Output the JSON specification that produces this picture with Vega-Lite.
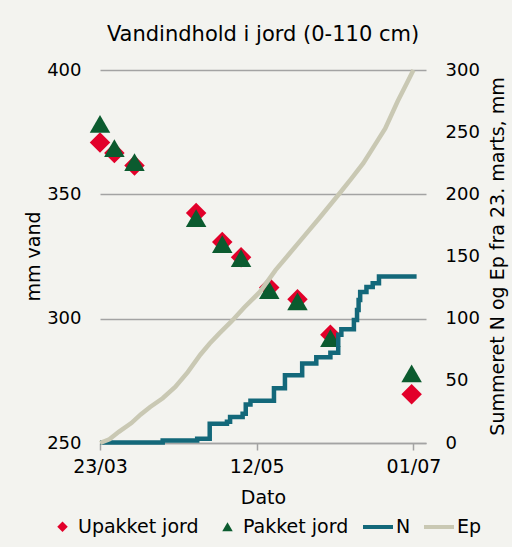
{
  "$schema": "https://vega.github.io/schema/vega-lite/v6.json",
  "width": 326,
  "height": 373,
  "autosize": "none",
  "padding": {"left": 100, "top": 70, "right": 86, "bottom": 104},
  "background": "#f3f3ef",
  "config": {
    "font": "DejaVu Sans",
    "view": {"stroke": null}
  },
  "title": {
    "text": "Vandindhold i jord (0-110 cm)",
    "fontSize": 21,
    "fontWeight": "normal",
    "color": "#000000",
    "frame": "group",
    "anchor": "middle",
    "offset": 16
  },
  "datasets": {
    "pts": [
      {"date": "2011/03/23 00:00", "serie": "Upakket jord", "vand": 370.8},
      {"date": "2011/03/27 14:00", "serie": "Upakket jord", "vand": 366.6},
      {"date": "2011/04/03 00:00", "serie": "Upakket jord", "vand": 361.6},
      {"date": "2011/04/22 16:00", "serie": "Upakket jord", "vand": 342.5},
      {"date": "2011/05/01 00:00", "serie": "Upakket jord", "vand": 330.8},
      {"date": "2011/05/07 00:00", "serie": "Upakket jord", "vand": 324.7},
      {"date": "2011/05/16 00:00", "serie": "Upakket jord", "vand": 312.5},
      {"date": "2011/05/25 00:00", "serie": "Upakket jord", "vand": 307.8},
      {"date": "2011/06/04 12:00", "serie": "Upakket jord", "vand": 293.5},
      {"date": "2011/06/30 10:00", "serie": "Upakket jord", "vand": 269.6},
      {"date": "2011/03/23 00:00", "serie": "Pakket jord", "vand": 378.3},
      {"date": "2011/03/27 14:00", "serie": "Pakket jord", "vand": 368.6},
      {"date": "2011/04/03 00:00", "serie": "Pakket jord", "vand": 363.0},
      {"date": "2011/04/22 16:00", "serie": "Pakket jord", "vand": 340.4},
      {"date": "2011/05/01 00:00", "serie": "Pakket jord", "vand": 330.0},
      {"date": "2011/05/07 00:00", "serie": "Pakket jord", "vand": 324.3},
      {"date": "2011/05/16 00:00", "serie": "Pakket jord", "vand": 311.5},
      {"date": "2011/05/25 00:00", "serie": "Pakket jord", "vand": 307.0},
      {"date": "2011/06/04 12:00", "serie": "Pakket jord", "vand": 292.2},
      {"date": "2011/06/30 10:00", "serie": "Pakket jord", "vand": 278.0}
    ],
    "n": [
      {"date": "2011/03/23 00:00", "sum": 0.5},
      {"date": "2011/04/12 00:00", "sum": 2},
      {"date": "2011/04/23 00:00", "sum": 3.5},
      {"date": "2011/04/27 00:00", "sum": 15.5},
      {"date": "2011/05/02 12:00", "sum": 17},
      {"date": "2011/05/03 12:00", "sum": 21},
      {"date": "2011/05/07 12:00", "sum": 23.5},
      {"date": "2011/05/08 12:00", "sum": 31},
      {"date": "2011/05/10 00:00", "sum": 34},
      {"date": "2011/05/17 12:00", "sum": 44},
      {"date": "2011/05/21 00:00", "sum": 54.5},
      {"date": "2011/05/26 12:00", "sum": 64},
      {"date": "2011/05/31 00:00", "sum": 69},
      {"date": "2011/06/04 12:00", "sum": 72.5},
      {"date": "2011/06/07 00:00", "sum": 87},
      {"date": "2011/06/08 00:00", "sum": 91.5},
      {"date": "2011/06/12 00:00", "sum": 99},
      {"date": "2011/06/13 00:00", "sum": 107},
      {"date": "2011/06/13 12:00", "sum": 115},
      {"date": "2011/06/14 00:00", "sum": 121.5},
      {"date": "2011/06/16 00:00", "sum": 125.5},
      {"date": "2011/06/18 00:00", "sum": 128.5},
      {"date": "2011/06/20 00:00", "sum": 134},
      {"date": "2011/07/02 00:00", "sum": 134}
    ],
    "ep": [
      {"date": "2011/03/23 00:00", "sum": 0},
      {"date": "2011/03/26 00:00", "sum": 3},
      {"date": "2011/03/29 00:00", "sum": 9},
      {"date": "2011/04/02 00:00", "sum": 16},
      {"date": "2011/04/05 00:00", "sum": 23},
      {"date": "2011/04/08 00:00", "sum": 29},
      {"date": "2011/04/12 00:00", "sum": 36},
      {"date": "2011/04/16 00:00", "sum": 45},
      {"date": "2011/04/20 00:00", "sum": 57},
      {"date": "2011/04/24 00:00", "sum": 71},
      {"date": "2011/04/27 00:00", "sum": 80},
      {"date": "2011/04/30 00:00", "sum": 88},
      {"date": "2011/05/04 00:00", "sum": 98},
      {"date": "2011/05/08 00:00", "sum": 109},
      {"date": "2011/05/13 00:00", "sum": 121.5},
      {"date": "2011/05/18 00:00", "sum": 139},
      {"date": "2011/05/22 00:00", "sum": 151},
      {"date": "2011/05/27 00:00", "sum": 166},
      {"date": "2011/06/01 00:00", "sum": 181},
      {"date": "2011/06/07 00:00", "sum": 199.5},
      {"date": "2011/06/11 00:00", "sum": 212},
      {"date": "2011/06/15 00:00", "sum": 225},
      {"date": "2011/06/19 00:00", "sum": 241},
      {"date": "2011/06/22 00:00", "sum": 253},
      {"date": "2011/06/26 00:00", "sum": 275},
      {"date": "2011/06/29 00:00", "sum": 290},
      {"date": "2011/07/01 00:00", "sum": 300}
    ]
  },
  "encoding": {
    "x": {
      "field": "date",
      "type": "temporal",
      "scale": {"domain": [{"year": 2011, "month": 3, "date": 23}, {"year": 2011, "month": 7, "date": 5}]},
      "axis": {
        "orient": "bottom",
        "values": [{"year": 2011, "month": 3, "date": 23}, {"year": 2011, "month": 5, "date": 12}, {"year": 2011, "month": 7, "date": 1}],
        "format": "%d/%m",
        "grid": false,
        "domainColor": "#a3a3a3",
        "domainWidth": 1.5,
        "tickColor": "#a3a3a3",
        "tickWidth": 1.5,
        "tickSize": 7,
        "labelPadding": 7,
        "labelFontSize": 19,
        "labelColor": "#000000",
        "labelFlush": false,
        "labelOverlap": false,
        "title": "Dato",
        "titleFontSize": 19,
        "titleFontWeight": "normal",
        "titleColor": "#000000",
        "titlePadding": 12
      }
    }
  },
  "layer": [
    {
      "data": {"name": "pts"},
      "mark": {"type": "point", "filled": true, "opacity": 1, "size": 420},
      "encoding": {
        "y": {
          "field": "vand",
          "type": "quantitative",
          "scale": {"domain": [250, 400], "zero": false, "nice": false},
          "axis": {
            "orient": "left",
            "values": [250, 300, 350, 400],
            "grid": true,
            "gridColor": "#a3a3a3",
            "gridWidth": 1.5,
            "domain": false,
            "ticks": false,
            "labelPadding": 19,
            "labelFontSize": 18,
            "labelColor": "#000000",
            "title": "mm vand",
            "titleFontSize": 19,
            "titleFontWeight": "normal",
            "titleColor": "#000000",
            "titleX": -67,
            "titleY": 186,
            "titleAngle": 270,
            "titleAlign": "center",
            "titleBaseline": "middle"
          }
        },
        "color": {
          "field": "serie",
          "type": "nominal",
          "scale": {"domain": ["Upakket jord", "Pakket jord"], "range": ["#e2002a", "#0b5b2f"]},
          "legend": {
            "orient": "none",
            "legendX": -47,
            "legendY": 447,
            "direction": "horizontal",
            "title": null,
            "labelFontSize": 19,
            "labelColor": "#000000",
            "symbolSize": 110,
            "symbolStrokeWidth": 0,
            "columnPadding": 19,
            "labelOffset": 6
          }
        },
        "shape": {
          "field": "serie",
          "type": "nominal",
          "scale": {"domain": ["Upakket jord", "Pakket jord"], "range": ["diamond", "triangle-up"]},
          "legend": {
            "orient": "none",
            "legendX": -47,
            "legendY": 447,
            "direction": "horizontal",
            "title": null,
            "labelFontSize": 19,
            "labelColor": "#000000",
            "symbolSize": 110,
            "symbolStrokeWidth": 0,
            "columnPadding": 19,
            "labelOffset": 6
          }
        }
      }
    },
    {
      "encoding": {
        "y": {
          "field": "sum",
          "type": "quantitative",
          "scale": {"domain": [0, 300], "nice": false},
          "axis": {
            "orient": "right",
            "values": [0, 50, 100, 150, 200, 250, 300],
            "grid": false,
            "domain": false,
            "ticks": false,
            "labelPadding": 19,
            "labelFontSize": 18,
            "labelColor": "#000000",
            "title": "Summeret N og Ep fra 23. marts, mm",
            "titleFontSize": 19,
            "titleFontWeight": "normal",
            "titleColor": "#000000",
            "titleX": 71,
            "titleY": 186,
            "titleAngle": 270,
            "titleAlign": "center",
            "titleBaseline": "middle"
          }
        }
      },
      "layer": [
        {
          "data": {"name": "n"},
          "mark": {"type": "line", "interpolate": "step-after", "strokeWidth": 4.5},
          "encoding": {
            "stroke": {
              "datum": "N",
              "type": "nominal",
              "scale": {"domain": ["N", "Ep"], "range": ["#13687a", "#c9c8b3"]},
              "legend": {
                "orient": "none",
                "legendX": 261,
                "legendY": 440,
                "direction": "horizontal",
                "title": null,
                "labelFontSize": 19,
                "labelColor": "#000000",
                "symbolType": "stroke",
                "symbolSize": 900,
                "symbolStrokeWidth": 4,
                "columnPadding": 5,
                "labelOffset": 1
              }
            }
          }
        },
        {
          "data": {"name": "ep"},
          "mark": {"type": "line", "strokeWidth": 4.5},
          "encoding": {
            "stroke": {
              "datum": "Ep",
              "type": "nominal",
              "scale": {"domain": ["N", "Ep"], "range": ["#13687a", "#c9c8b3"]},
              "legend": {
                "orient": "none",
                "legendX": 261,
                "legendY": 440,
                "direction": "horizontal",
                "title": null,
                "labelFontSize": 19,
                "labelColor": "#000000",
                "symbolType": "stroke",
                "symbolSize": 900,
                "symbolStrokeWidth": 4,
                "columnPadding": 5,
                "labelOffset": 1
              }
            }
          }
        }
      ]
    }
  ],
  "resolve": {"scale": {"y": "independent"}}
}
